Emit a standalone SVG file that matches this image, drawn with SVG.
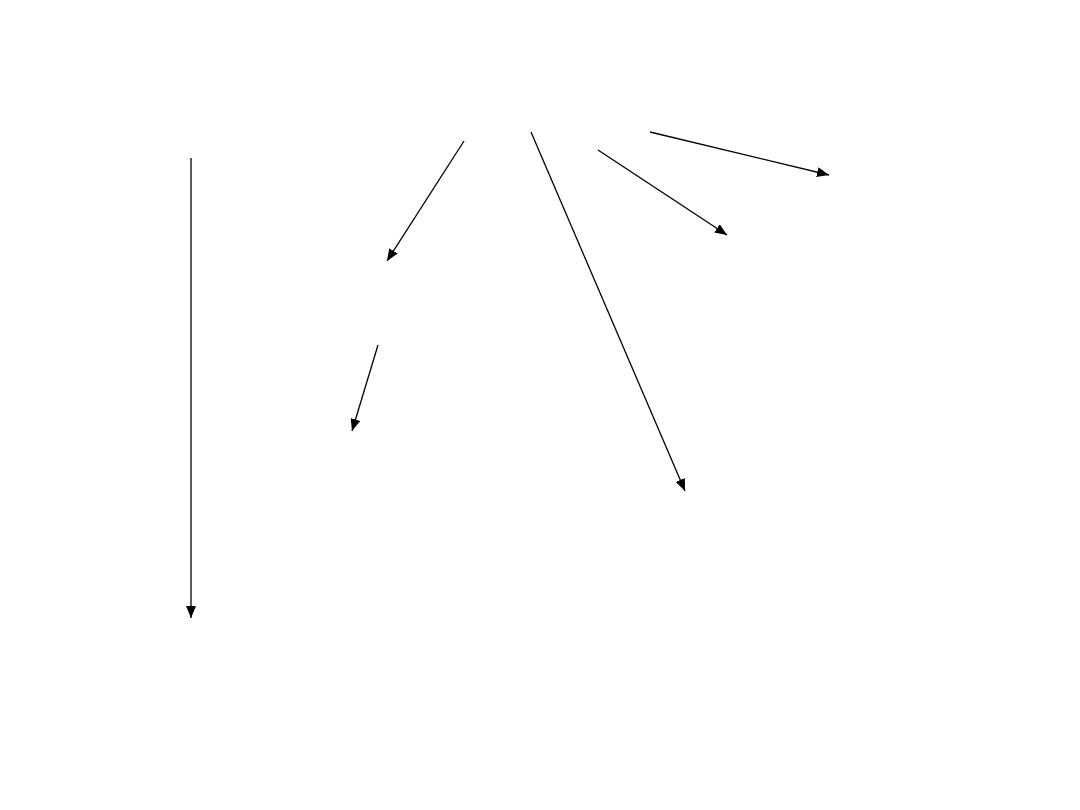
<svg xmlns="http://www.w3.org/2000/svg" width="1080" height="810" viewBox="0 0 1080 810">
<style>
.c{stroke:#000;stroke-width:1.3;fill:none;marker-end:url(#ah)}
</style>
<defs>
<marker id="ah" markerUnits="userSpaceOnUse" markerWidth="12" markerHeight="10" viewBox="0 0 12 10" refX="12" refY="5" orient="auto">
<path d="M0,0 L12,5 L0,10 Z" fill="#000"/>
</marker>
</defs>
<rect width="1080" height="810" fill="#fff"/>
<g id="connectors">
<line class="c" x1="464" y1="141" x2="387" y2="261"/>
<line class="c" x1="531" y1="132" x2="685" y2="491"/>
<line class="c" x1="598" y1="150" x2="727" y2="235"/>
<line class="c" x1="650" y1="132" x2="829" y2="175"/>
<line class="c" x1="378" y1="345" x2="352" y2="431"/>
<line class="c" x1="191" y1="158" x2="191" y2="618"/>
</g>
</svg>
